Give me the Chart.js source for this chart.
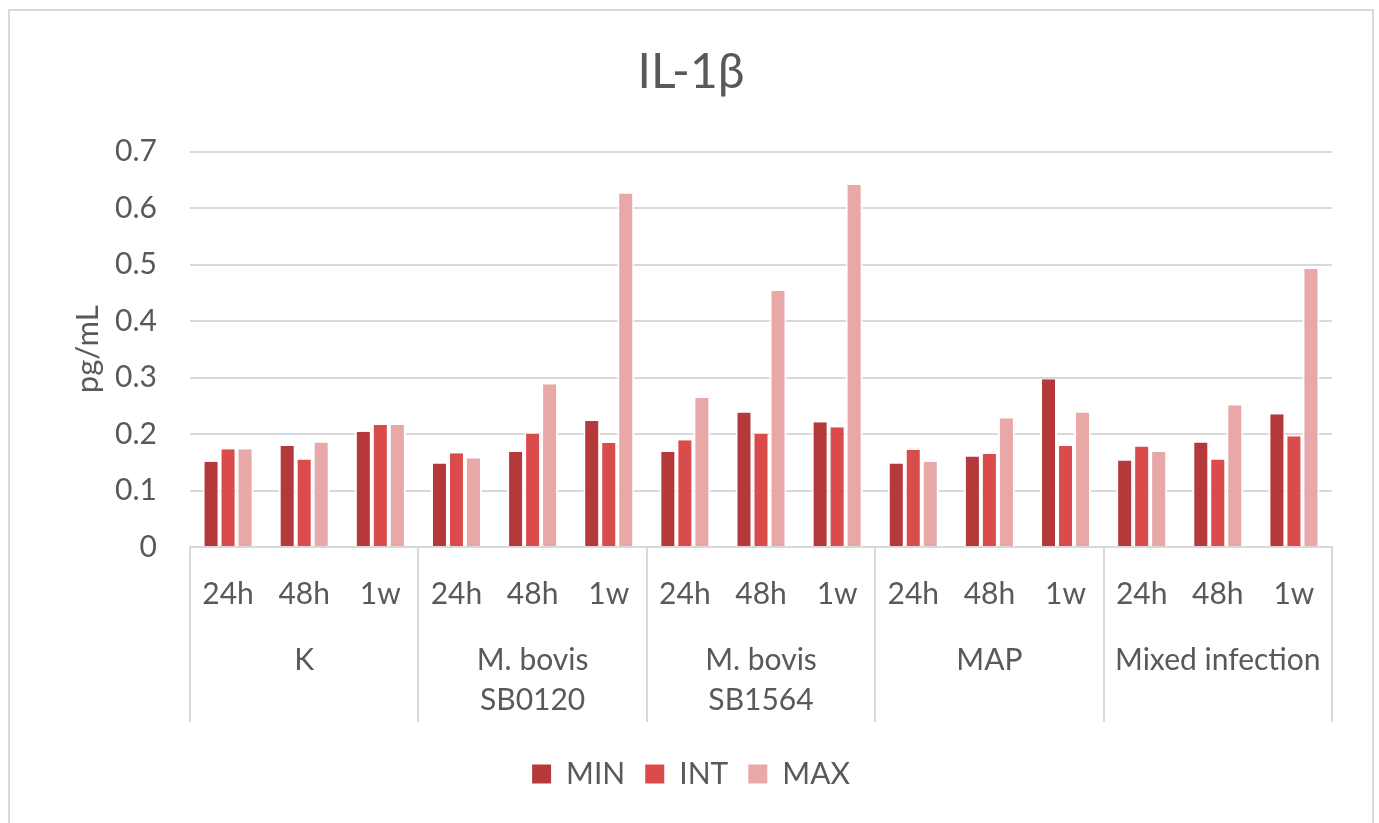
<!DOCTYPE html>
<html>
<head>
<meta charset="utf-8">
<title>IL-1β</title>
<script src="https://cdn.jsdelivr.net/npm/chart.js@4/dist/chart.umd.min.js"></script>
<style>
  html, body { margin: 0; padding: 0; background: #fff; overflow: hidden; }
  #wrap { position: relative; width: 1379px; height: 823px; overflow: hidden; }
  #frame {
    position: absolute; left: 8px; top: 9px; width: 1362px; height: 900px;
    border: 2px solid #d9d9d9; pointer-events: none;
  }
  canvas { position: absolute; left: 0; top: 0; }
</style>
</head>
<body>
<div id="wrap">
  <div id="frame"></div>
  <canvas id="chart" width="1382" height="823"></canvas>
</div>
<script>
// time points inside each group, and the groups themselves
const timePoints = ["24h", "48h", "1w"];
const groups = ["K", ["M. bovis", "SB0120"], ["M. bovis", "SB1564"], "MAP", "Mixed infection"];

// one label per bar cluster (5 groups x 3 time points)
const labels = [];
groups.forEach(() => timePoints.forEach((t) => labels.push(t)));

// pg/mL, in the order K, SB0120, SB1564, MAP, Mixed; 24h / 48h / 1w
const minValues = [
  0.151, 0.179, 0.204,
  0.148, 0.168, 0.223,
  0.168, 0.238, 0.221,
  0.148, 0.160, 0.297,
  0.153, 0.185, 0.235,
];
const intValues = [
  0.173, 0.155, 0.216,
  0.166, 0.200, 0.184,
  0.189, 0.200, 0.212,
  0.172, 0.165, 0.179,
  0.178, 0.155, 0.196,
];
const maxValues = [
  0.173, 0.185, 0.216,
  0.157, 0.288, 0.626,
  0.264, 0.453, 0.641,
  0.151, 0.228, 0.238,
  0.168, 0.251, 0.492,
];

const yTicks = [0, 0.1, 0.2, 0.3, 0.4, 0.5, 0.6, 0.7];

const textColor = "#595959";
const lineColor = "#d9d9d9";
const fontFamily = "Lato, 'Open Sans', sans-serif";

const barStyle = {
  borderColor: "#ffffff",
  borderWidth: { left: 2, right: 2, top: 0, bottom: 0 },
  borderSkipped: false,
  categoryPercentage: 0.67,
  barPercentage: 1.0,
};

const chartData = {
  labels: labels,
  datasets: [
    { label: "MIN", data: minValues, backgroundColor: "#b5393a", ...barStyle },
    { label: "INT", data: intValues, backgroundColor: "#da4b4b", ...barStyle },
    { label: "MAX", data: maxValues, backgroundColor: "#e8a8a8", ...barStyle },
  ],
};

const config = {
  type: "bar",
  data: chartData,
  options: {
    responsive: false,
    animation: false,
    layout: { padding: { left: 0, right: 0, top: 0, bottom: 24 } },
    plugins: {
      title: {
        display: true,
        text: "IL-1β",
        color: textColor,
        font: { family: fontFamily, size: 48, weight: "normal" },
        padding: { top: 44, bottom: 50 },
      },
      legend: {
        position: "bottom",
        labels: {
          color: textColor,
          font: { family: fontFamily, size: 30 },
          boxWidth: 19,
          boxHeight: 19,
          padding: 20,
          generateLabels: (chart) =>
            chart.data.datasets.map((ds, i) => ({
              text: ds.label,
              fillStyle: ds.backgroundColor,
              strokeStyle: ds.backgroundColor,
              lineWidth: 0,
              fontColor: textColor,
              datasetIndex: i,
              hidden: false,
            })),
        },
      },
      tooltip: { enabled: false },
    },
    scales: {
      y: {
        min: 0,
        max: 0.7,
        afterFit: (s) => { s.width = 190; },
        afterBuildTicks: (s) => { s.ticks = yTicks.map((v) => ({ value: v })); },
        ticks: {
          color: textColor,
          font: { family: fontFamily, size: 30 },
          padding: 33,
        },
        grid: { color: lineColor, lineWidth: 2, drawTicks: false },
        border: { display: false },
        title: {
          display: true,
          text: "pg/mL",
          color: textColor,
          font: { family: fontFamily, size: 31 },
          padding: { top: 69, bottom: 0 },
        },
      },
      // empty right-hand gutter so the plot ends short of the frame
      yRight: {
        position: "right",
        min: 0,
        max: 0.7,
        afterFit: (s) => { s.width = 50; },
        ticks: { display: false },
        grid: { display: false, drawTicks: false },
        border: { display: false },
      },
      x: {
        weight: 0,
        afterFit: (s) => { s.height = 91; },
        ticks: {
          color: textColor,
          font: { family: fontFamily, size: 30 },
          padding: -146,
          autoSkip: false,
          maxRotation: 0,
        },
        grid: {
          drawOnChartArea: false,
          tickLength: 175,
          lineWidth: 2,
          // only the group boundaries get a separator
          color: (ctx) => (ctx.type !== "tick" || ctx.index % 3 === 0 ? lineColor : "rgba(0,0,0,0)"),
        },
        border: { color: lineColor, width: 2 },
      },
      x2: {
        type: "category",
        position: "bottom",
        weight: 1,
        labels: groups,
        offset: true,
        afterFit: (s) => { s.height = 101; },
        ticks: {
          color: textColor,
          font: { family: fontFamily, size: 30, lineHeight: 1.33 },
          padding: 2,
          autoSkip: false,
          maxRotation: 0,
        },
        grid: { display: false, drawTicks: false },
        border: { display: false },
      },
    },
  },
};

const il1bChart = new Chart(document.querySelector("#chart"), config);
</script>
</body>
</html>
